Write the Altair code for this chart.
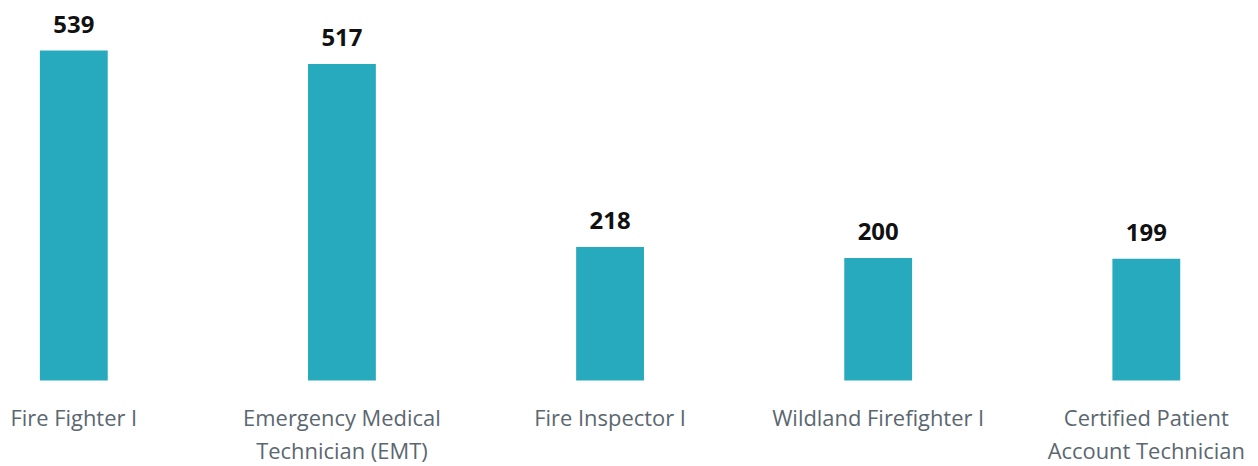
import altair as alt
import pandas as pd

categories = [
    "Fire Fighter I",
    "Emergency Medical\nTechnician (EMT)",
    "Fire Inspector I",
    "Wildland Firefighter I",
    "Certified Patient\nAccount Technician",
]
values = [539, 517, 218, 200, 199]

df = pd.DataFrame({"cat": categories, "val": values})

x = alt.X(
    "cat:N",
    sort=categories,
    scale=alt.Scale(paddingInner=0.747, paddingOuter=0.1115),
    axis=alt.Axis(
        title=None, labelAngle=0, domain=False, ticks=False,
        labelExpr="split(datum.label, '\\n')",
        labelFont="Open Sans", labelFontSize=22, labelColor="#5B6770",
        labelLineHeight=33, labelPadding=28, labelLimit=400,
        labelOverlap=False, labelBound=False, labelFlush=False,
    ),
)
y = alt.Y("val:Q", scale=alt.Scale(domain=[0, 604]), axis=None)

bars = alt.Chart(df).mark_bar(color="#28AABE").encode(x=x, y=y)
labels = alt.Chart(df).mark_text(
    font="Open Sans", fontSize=24, fontWeight="bold", color="#111111",
    dy=-18, baseline="alphabetic",
).encode(x=x, y=y, text="val:Q")

chart = (bars + labels).properties(
    width=1204, height=371,
    autosize=alt.AutoSizeParams(type="none"),
    padding={"left": 2, "top": 2, "right": 40, "bottom": 85},
).configure_view(stroke=None)

chart.save("out.html", embed_options={"renderer": "svg", "actions": False})
